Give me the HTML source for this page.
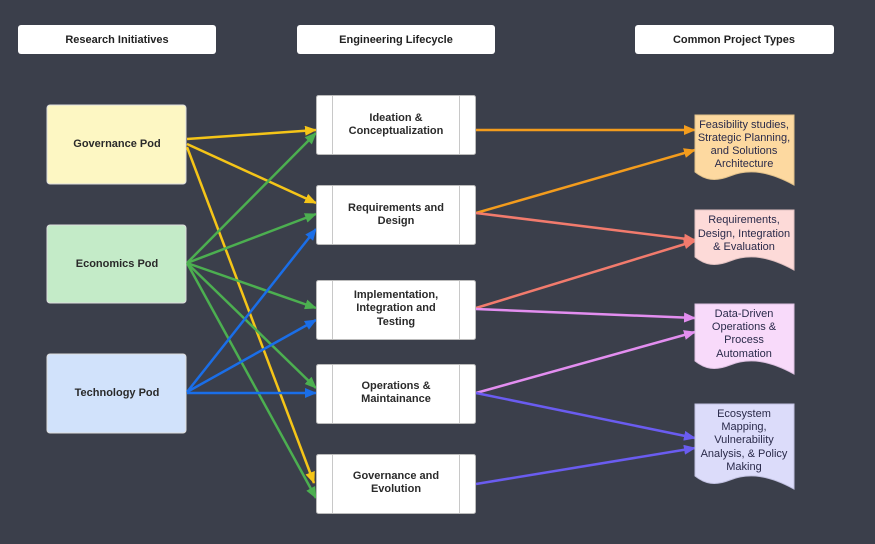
<!DOCTYPE html>
<html><head><meta charset="utf-8"><style>
html,body{margin:0;padding:0;background:#3b3f4b;}
svg{display:block;font-family:"Liberation Sans",sans-serif;}
.h{font-size:11px;font-weight:bold;fill:#222;}
.b{font-size:11px;font-weight:bold;fill:#2a2a2a;}
.d{font-size:11px;fill:#2a2a4a;}
</style></head><body>
<svg width="875" height="544" viewBox="0 0 875 544">
<defs>
<marker id="ay" markerWidth="12" markerHeight="10" refX="11" refY="5" orient="auto" markerUnits="userSpaceOnUse"><path d="M0,0 L12,5 L0,10z" fill="#f5c518"/></marker>
<marker id="ag" markerWidth="12" markerHeight="10" refX="11" refY="5" orient="auto" markerUnits="userSpaceOnUse"><path d="M0,0 L12,5 L0,10z" fill="#4caf50"/></marker>
<marker id="ab" markerWidth="12" markerHeight="10" refX="11" refY="5" orient="auto" markerUnits="userSpaceOnUse"><path d="M0,0 L12,5 L0,10z" fill="#1a6ee8"/></marker>
<marker id="ao" markerWidth="12" markerHeight="10" refX="11" refY="5" orient="auto" markerUnits="userSpaceOnUse"><path d="M0,0 L12,5 L0,10z" fill="#f39c1d"/></marker>
<marker id="as" markerWidth="12" markerHeight="10" refX="11" refY="5" orient="auto" markerUnits="userSpaceOnUse"><path d="M0,0 L12,5 L0,10z" fill="#f27b6d"/></marker>
<marker id="ap" markerWidth="12" markerHeight="10" refX="11" refY="5" orient="auto" markerUnits="userSpaceOnUse"><path d="M0,0 L12,5 L0,10z" fill="#e38ef0"/></marker>
<marker id="au" markerWidth="12" markerHeight="10" refX="11" refY="5" orient="auto" markerUnits="userSpaceOnUse"><path d="M0,0 L12,5 L0,10z" fill="#6a5cf0"/></marker>
</defs>

<rect x="18" y="25" width="198" height="29" rx="3" fill="#fff"/>
<text x="117" y="43" text-anchor="middle" class="h">Research Initiatives</text>
<rect x="297" y="25" width="198" height="29" rx="3" fill="#fff"/>
<text x="396" y="43" text-anchor="middle" class="h">Engineering Lifecycle</text>
<rect x="635" y="25" width="199" height="29" rx="3" fill="#fff"/>
<text x="734" y="43" text-anchor="middle" class="h">Common Project Types</text>

<rect x="47" y="105" width="139" height="79" rx="3" fill="#fdf7c3" stroke="#ddd" stroke-width="1"/>
<text x="117" y="147" text-anchor="middle" class="b">Governance Pod</text>
<rect x="47" y="225" width="139" height="78" rx="3" fill="#c4ebc8" stroke="#ddd" stroke-width="1"/>
<text x="117" y="267" text-anchor="middle" class="b">Economics Pod</text>
<rect x="47" y="354" width="139" height="79" rx="3" fill="#d1e2fb" stroke="#ddd" stroke-width="1"/>
<text x="117" y="396" text-anchor="middle" class="b">Technology Pod</text>

<g stroke-width="2.5" fill="none">
<line x1="187" y1="139" x2="316" y2="130" stroke="#f5c518" marker-end="url(#ay)"/>
<line x1="187" y1="144" x2="316" y2="203" stroke="#f5c518" marker-end="url(#ay)"/>
<line x1="187" y1="147" x2="314" y2="483" stroke="#f5c518" marker-end="url(#ay)"/>
<line x1="187" y1="263" x2="316" y2="133" stroke="#4caf50" marker-end="url(#ag)"/>
<line x1="187" y1="263" x2="316" y2="214" stroke="#4caf50" marker-end="url(#ag)"/>
<line x1="187" y1="263" x2="316" y2="308" stroke="#4caf50" marker-end="url(#ag)"/>
<line x1="187" y1="263" x2="316" y2="388" stroke="#4caf50" marker-end="url(#ag)"/>
<line x1="187" y1="263" x2="316" y2="498" stroke="#4caf50" marker-end="url(#ag)"/>
<line x1="187" y1="392" x2="316" y2="229" stroke="#1a6ee8" marker-end="url(#ab)"/>
<line x1="187" y1="392" x2="316" y2="320" stroke="#1a6ee8" marker-end="url(#ab)"/>
<line x1="187" y1="393" x2="316" y2="393" stroke="#1a6ee8" marker-end="url(#ab)"/>
<line x1="476" y1="130" x2="695" y2="130" stroke="#f39c1d" marker-end="url(#ao)"/>
<line x1="476" y1="213" x2="695" y2="150" stroke="#f39c1d" marker-end="url(#ao)"/>
<line x1="476" y1="213" x2="695" y2="240" stroke="#f27b6d" marker-end="url(#as)"/>
<line x1="476" y1="308" x2="695" y2="241" stroke="#f27b6d" marker-end="url(#as)"/>
<line x1="476" y1="309" x2="695" y2="318" stroke="#e38ef0" marker-end="url(#ap)"/>
<line x1="476" y1="393" x2="695" y2="332" stroke="#e38ef0" marker-end="url(#ap)"/>
<line x1="476" y1="393" x2="695" y2="438" stroke="#6a5cf0" marker-end="url(#au)"/>
<line x1="476" y1="484" x2="695" y2="448" stroke="#6a5cf0" marker-end="url(#au)"/>
</g>

<g fill="#fff" stroke="#bbb" stroke-width="1">
<rect x="316.5" y="95.5" width="159" height="59" rx="2"/>
<rect x="316.5" y="185.5" width="159" height="59" rx="2"/>
<rect x="316.5" y="280.5" width="159" height="59" rx="2"/>
<rect x="316.5" y="364.5" width="159" height="59" rx="2"/>
<rect x="316.5" y="454.5" width="159" height="59" rx="2"/>
</g>
<g stroke="#c8c8c8" stroke-width="1">
<line x1="332.5" y1="96" x2="332.5" y2="154"/><line x1="459.5" y1="96" x2="459.5" y2="154"/>
<line x1="332.5" y1="186" x2="332.5" y2="244"/><line x1="459.5" y1="186" x2="459.5" y2="244"/>
<line x1="332.5" y1="281" x2="332.5" y2="339"/><line x1="459.5" y1="281" x2="459.5" y2="339"/>
<line x1="332.5" y1="365" x2="332.5" y2="423"/><line x1="459.5" y1="365" x2="459.5" y2="423"/>
<line x1="332.5" y1="455" x2="332.5" y2="513"/><line x1="459.5" y1="455" x2="459.5" y2="513"/>
</g>
<g text-anchor="middle" class="b">
<text x="396" y="121" class="b">Ideation &amp;</text><text x="396" y="134" class="b">Conceptualization</text>
<text x="396" y="211" class="b">Requirements and</text><text x="396" y="224" class="b">Design</text>
<text x="396" y="298" class="b">Implementation,</text><text x="396" y="311" class="b">Integration and</text><text x="396" y="325" class="b">Testing</text>
<text x="396" y="389" class="b">Operations &amp;</text><text x="396" y="402" class="b">Maintainance</text>
<text x="396" y="479" class="b">Governance and</text><text x="396" y="492" class="b">Evolution</text>
</g>

<path d="M695,115 H794 V185 C770,172 750,168 730,176 C715,182 705,180 695,172 Z" fill="#fdd9a0" stroke="#e0c08a"/>
<path d="M695,210 H794 V270 C770,257 750,253 730,261 C715,267 705,265 695,257 Z" fill="#fddad8" stroke="#e0c0c0"/>
<path d="M695,304 H794 V374 C770,361 750,357 730,365 C715,371 705,369 695,361 Z" fill="#f8dafa" stroke="#dcc0e0"/>
<path d="M695,404 H794 V489 C770,476 750,472 730,480 C715,486 705,484 695,476 Z" fill="#dcdcfa" stroke="#c0c0e0"/>
<g text-anchor="middle" class="d">
<text x="744" y="128" class="d">Feasibility studies,</text><text x="744" y="141" class="d">Strategic Planning,</text><text x="744" y="154" class="d">and Solutions</text><text x="744" y="167" class="d">Architecture</text>
<text x="744" y="223" class="d">Requirements,</text><text x="744" y="237" class="d">Design, Integration</text><text x="744" y="250" class="d">&amp; Evaluation</text>
<text x="744" y="317" class="d">Data-Driven</text><text x="744" y="330" class="d">Operations &amp;</text><text x="744" y="343" class="d">Process</text><text x="744" y="357" class="d">Automation</text>
<text x="744" y="417" class="d">Ecosystem</text><text x="744" y="430" class="d">Mapping,</text><text x="744" y="443" class="d">Vulnerability</text><text x="744" y="457" class="d">Analysis, &amp; Policy</text><text x="744" y="470" class="d">Making</text>
</g>
</svg>
</body></html>
